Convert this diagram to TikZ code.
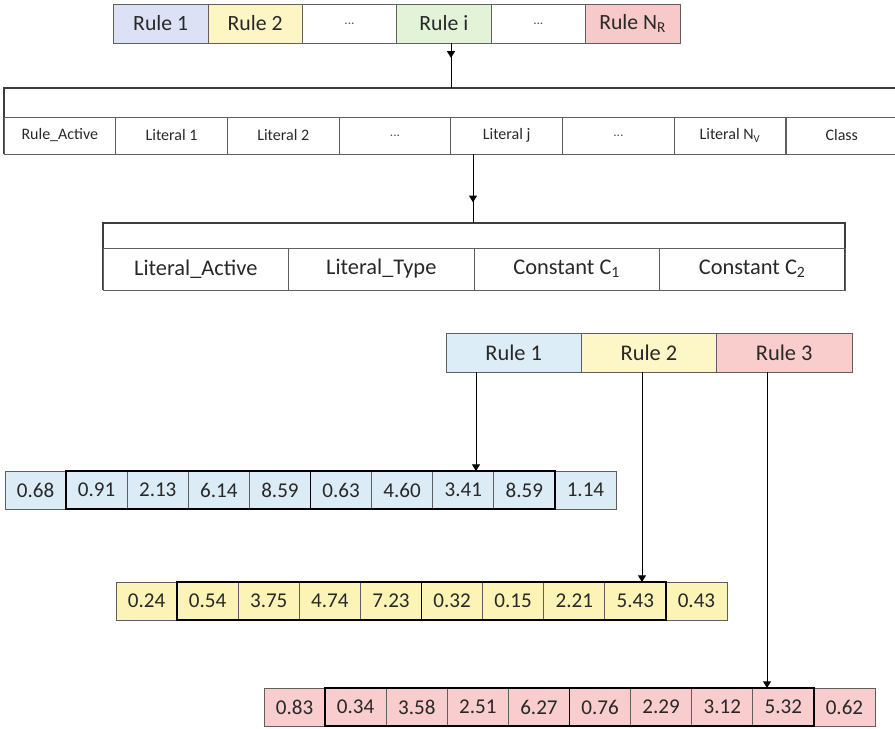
\documentclass[tikz,border=0pt]{standalone}
\usepackage{fontspec}
\setmainfont{Carlito}
\usetikzlibrary{arrows.meta,decorations.markings}

\definecolor{cRA}{RGB}{221,225,245}
\definecolor{cRB}{RGB}{253,245,196}
\definecolor{cRI}{RGB}{226,243,216}
\definecolor{cRN}{RGB}{248,201,201}
\definecolor{hBlue}{RGB}{221,237,247}
\definecolor{hYel}{RGB}{253,246,198}
\definecolor{hPink}{RGB}{250,205,205}
\definecolor{rBlue}{RGB}{219,236,246}
\definecolor{rYel}{RGB}{252,243,182}
\definecolor{rPink}{RGB}{249,204,205}
\definecolor{ink}{RGB}{40,40,40}
\definecolor{edge}{RGB}{95,95,95}

% three dots kept in a macro so that \foreach does not read them as a range
\newcommand\elip{{\fontsize{10}{12}\selectfont\color{ink!80} ...}}

\tikzset{
  cell/.style={draw=edge, line width=0.6pt, inner sep=0pt, outer sep=0pt,
    text=ink, anchor=center},
  bracketline/.style={draw=ink!90, line width=0.8pt},
  groupbox/.style={draw=black, line width=1.4pt},
  tip/.style={-{Triangle[width=6pt,length=5pt]}, draw=black, line width=0.7pt},
  midarrow/.style={draw=black, line width=0.7pt, postaction={decorate},
    decoration={markings, mark=at position #1 with {\arrow{Triangle[width=6pt,length=5pt]}}}},
  topfont/.style={font=\fontsize{16.3}{18}\selectfont},
  midfont/.style={font=\fontsize{12}{14}\selectfont},
  lowfont/.style={font=\fontsize{16.8}{19}\selectfont},
  hdrfont/.style={font=\fontsize{16.8}{19}\selectfont},
  numfont/.style={font=\fontsize{15.8}{18}\selectfont},
}

\begin{document}
\begin{tikzpicture}[x=0.75pt,y=-0.75pt]
\useasboundingbox (0,0) rectangle (895,728);

% chromosome: list of rules
\foreach \t/\c [count=\i from 0] in
  {Rule 1/cRA, Rule 2/cRB, \elip/white, Rule i/cRI, \elip/white, Rule N\textsubscript{R}/cRN}
  \node[cell, topfont, fill=\c, minimum width=70.8pt, minimum height=29.25pt]
    (top\i) at ({113.5+94.4*\i+47.2}, 23.5) {\t};

% rule: literals
\draw[bracketline] (4,154) -- (4,88) -- (898,88);
\foreach \t [count=\i from 0] in
  {Rule\_Active, Literal 1, Literal 2, \elip, Literal j, \elip, Literal N\textsubscript{V}, Class}
  \node[cell, midfont, minimum width=83.8pt, minimum height=27.75pt]
    (lit\i) at ({4+111.7*\i+55.85}, 135.5) {\t};

\coordinate (b1) at (451,88);
\draw[midarrow=0.33] (top3.south -| b1) -- (b1);

% literal: fields
\draw[bracketline] (103,290) -- (103,223) -- (845,223) -- (845,290);
\foreach \t [count=\i from 0] in
  {Literal\_Active, Literal\_Type, Constant C\textsubscript{1}, Constant C\textsubscript{2}}
  \node[cell, lowfont, minimum width=139.1pt, minimum height=31.5pt]
    (fld\i) at ({103+185.5*\i+92.75}, 269) {\t};

\coordinate (b2) at (473,223);
\draw[midarrow=0.7] (lit4.south -| b2) -- (b2);

% example with three rules
\foreach \t/\c [count=\i from 1] in {Rule 1/hBlue, Rule 2/hYel, Rule 3/hPink}
  \node[cell, hdrfont, fill=\c, minimum width=101.5pt, minimum height=29.25pt]
    (hdr\i) at ({446+135.3*(\i-1)+67.65}, 352.5) {\t};

% encoded rules
\foreach \row/\x/\y/\c/\vals in {
   1/5/490/rBlue/{0.68,0.91,2.13,6.14,8.59,0.63,4.60,3.41,8.59,1.14},
   2/116/601/rYel/{0.24,0.54,3.75,4.74,7.23,0.32,0.15,2.21,5.43,0.43},
   3/264/707/rPink/{0.83,0.34,3.58,2.51,6.27,0.76,2.29,3.12,5.32,0.62}}{
  \foreach \v [count=\k from 0] in \vals
    \node[cell, numfont, fill=\c, minimum width=45.9pt, minimum height=28.5pt]
      (r\row c\k) at ({\x+61.1*\k+30.55}, \y) {\v};
  \draw[groupbox] (r\row c1.north west) rectangle (r\row c4.south east);
  \draw[groupbox] (r\row c5.north west) rectangle (r\row c8.south east);
}

\coordinate (t1) at (476,471);
\coordinate (t2) at (642,582);
\coordinate (t3) at (767,688);
\draw[tip] (hdr1.south -| t1) -- (t1);
\draw[tip] (hdr2.south -| t2) -- (t2);
\draw[tip] (hdr3.south -| t3) -- (t3);
\end{tikzpicture}
\end{document}
